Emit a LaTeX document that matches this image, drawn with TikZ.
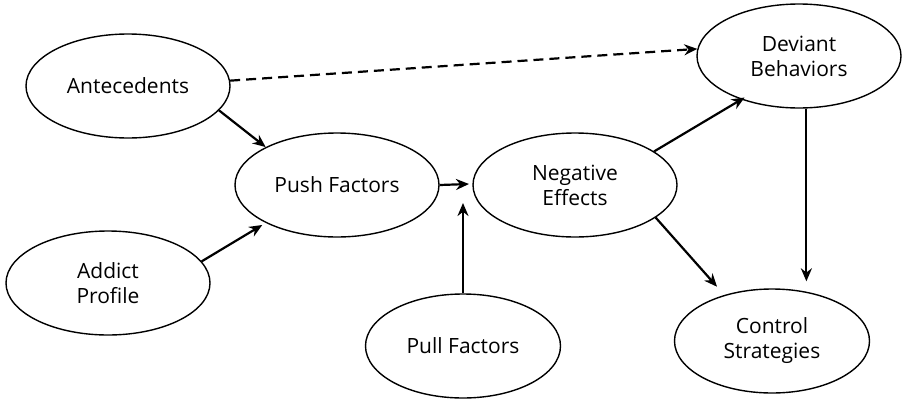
\documentclass[tikz,border=0pt]{standalone}
\usepackage{fontspec}
\setmainfont{Open Sans}
\usetikzlibrary{arrows.meta,shapes.geometric,positioning}

\begin{document}
\begin{tikzpicture}[x=1pt,y=-1pt,
      myellipse/.style={
         ellipse,
         draw=black,
         line width=1.4pt,
         fill=white,
         inner sep=0pt,
         minimum width=204pt,
         minimum height=104pt,
         align=center,
         font=\fontsize{21}{25}\selectfont},
      smallellipse/.style={
         myellipse,
         minimum width=195pt},
      myarrow/.style={-{Stealth[length=13pt,width=11pt]},line width=2.2pt},
      mydashed/.style={myarrow,dash pattern=on 10pt off 6pt}
      ]
      \useasboundingbox (0,0) rectangle (902,399);

      \node[myellipse] (ante) at (128,86) {Antecedents};
      \node[myellipse] (push) at (337,185) {Push Factors};
      \node[myellipse] (neg) at (575,185) {Negative\\Effects};
      \node[myellipse] (dev) at (799,56) {Deviant\\Behaviors};
      \node[myellipse] (addict) at (108,283) {Addict\\Profile};
      \node[smallellipse] (pull) at (463,346) {Pull Factors};
      \node[smallellipse] (ctrl) at (772,341) {Control\\Strategies};

      % free ends of the two arrows into the gap
      \coordinate (pushtip) at (469,184);
      \coordinate (pulltip) at (463,203);

    \foreach \i/\j/\s in {% start/end/shorten at end
      ante.-15/push.152/0pt,
      addict.13/push.-152/4pt,
      push.east/pushtip/0pt,
      pull.north/pulltip/0pt,
      neg.23/dev.-143/-4pt,
      neg.-22/ctrl.136/11pt,
      dev.-82/dev.-82 |- ctrl.north/7pt}
       \draw [myarrow,shorten >=\s] (\i) -- (\j);

     % the only dashed link
     \draw [mydashed] (ante.3) -- (dev.176);
    \end{tikzpicture}
\end{document}
